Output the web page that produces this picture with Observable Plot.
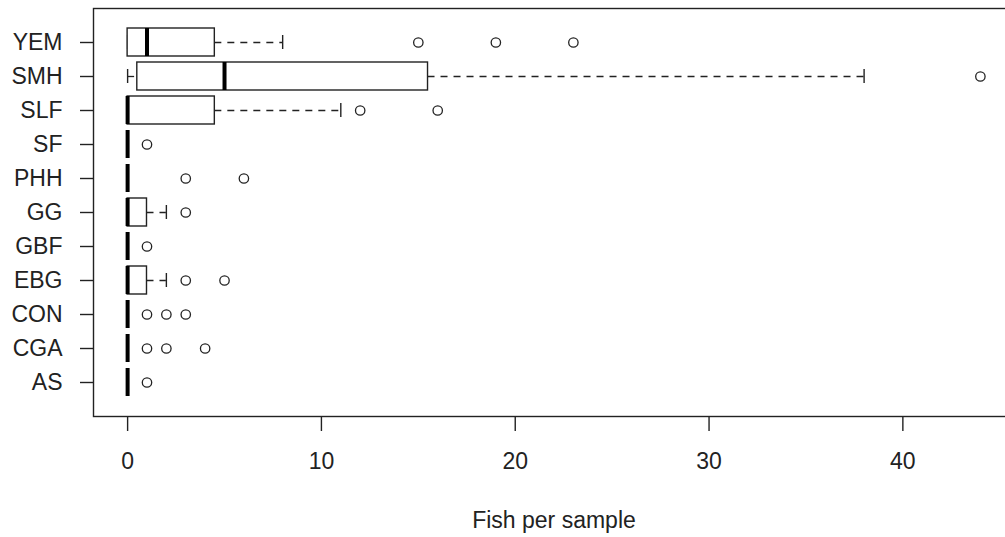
<!DOCTYPE html>
<html><head><meta charset="utf-8">
<script src="https://cdn.jsdelivr.net/npm/d3@7"></script>
<script src="https://cdn.jsdelivr.net/npm/@observablehq/plot@0.6"></script>
<style>
html,body{margin:0;padding:0;background:#fff;overflow:hidden;}
#chart svg{overflow:hidden;display:block;}
</style></head><body><div id="chart"></div>
<script>
const categories = ["YEM","SMH","SLF","SF","PHH","GG","GBF","EBG","CON","CGA","AS"];
const q1 =          [0, 0.5, 0,   0, 0, 0, 0, 0, 0, 0, 0];
const median =      [1, 5,   0,   0, 0, 0, 0, 0, 0, 0, 0];
const q3 =          [4.5, 15.5, 4.5, 0, 0, 1, 0, 1, 0, 0, 0];
const whiskerLow =  [0, 0,   0,   0, 0, 0, 0, 0, 0, 0, 0];
const whiskerHigh = [8, 38,  11,  0, 0, 2, 0, 2, 0, 0, 0];
const outliers = [[15,19,23],[44],[12,16],[1],[3,6],[3],[1],[3,5],[1,2,3],[1,2,4],[1]];
const xTicks = [0,10,20,30,40];
const xDomain = [-1.76, 45.76];
const xLabel = "Fish per sample";

const boxes = categories.map((c,i)=>({cat:c,q1:q1[i],median:median[i],q3:q3[i],lo:whiskerLow[i],hi:whiskerHigh[i]}));
const points = categories.flatMap((c,i)=>outliers[i].map(v=>({cat:c,value:v})));

const ink = "#222";
const chart = Plot.plot({
  width: 1005,
  height: 537,
  marginLeft: 93,
  marginRight: -9,
  marginTop: 8,
  marginBottom: 121,
  style: {fontFamily: "'Liberation Sans', Arial, sans-serif", fontSize: "23px", color: ink, background: "#fff"},
  x: {domain: xDomain},
  y: {domain: categories, paddingInner: 0.183, paddingOuter: 0.532},
  marks: [
    Plot.ruleY(boxes, {y: "cat", x1: "q3", x2: "hi", stroke: ink, strokeWidth: 1.3, strokeDasharray: "7,6"}),
    Plot.ruleY(boxes, {y: "cat", x1: "lo", x2: "q1", stroke: ink, strokeWidth: 1.3, strokeDasharray: "7,6"}),
    Plot.tickX(boxes, {x: "hi", y: "cat", stroke: ink, strokeWidth: 1.4, insetTop: 7, insetBottom: 7}),
    Plot.tickX(boxes, {x: "lo", y: "cat", stroke: ink, strokeWidth: 1.4, insetTop: 7, insetBottom: 7}),
    Plot.barX(boxes, {x1: "q1", x2: "q3", y: "cat", fill: "white", stroke: ink, strokeWidth: 1.4}),
    Plot.tickX(boxes, {x: "median", y: "cat", stroke: "#000", strokeWidth: 4, strokeLinecap: "butt"}),
    Plot.dot(points, {x: "value", y: "cat", r: 4.7, stroke: ink, fill: "none", strokeWidth: 1.3}),
    Plot.frame({stroke: ink, strokeWidth: 1.4}),
    Plot.axisX(xTicks, {tickSize: 15, tickPadding: 21, strokeWidth: 1.4, label: xLabel, labelArrow: "none", labelAnchor: "center", labelOffset: 111, fontSize: 23}),
    Plot.axisY({tickSize: 13, tickPadding: 18, strokeWidth: 1.4, label: null, fontSize: 23})
  ]
});
document.getElementById("chart").appendChild(chart);
</script>
</body></html>
